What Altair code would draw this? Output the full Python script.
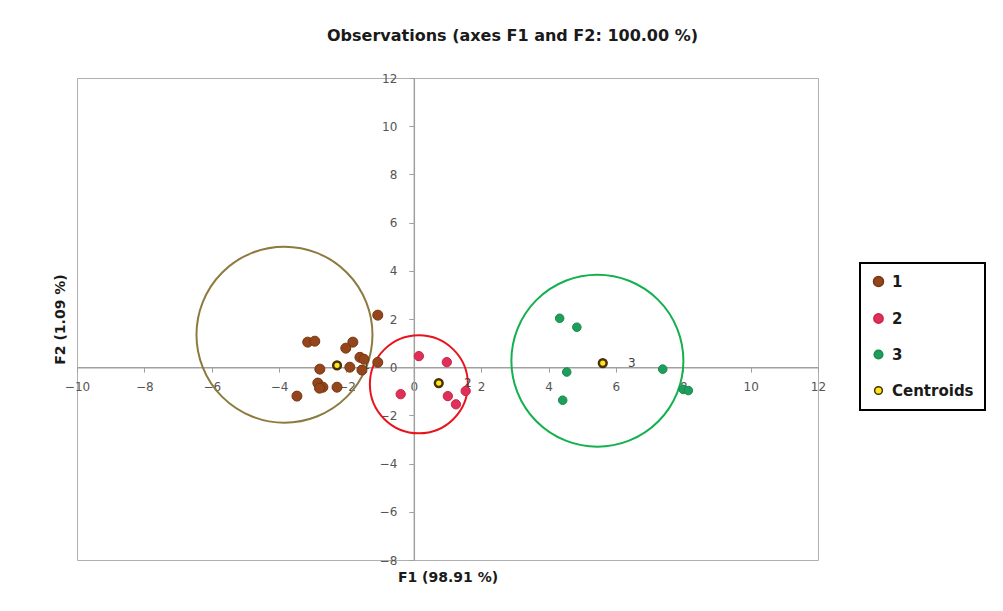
import altair as alt
import pandas as pd

# ---- data ----
c1_x = [-1.07, -3.15, -2.94, -1.81, -2.02, -1.60, -1.48, -1.07, -1.90, -2.79, -1.54, -2.85, -2.70, -2.80, -2.28, -3.47]
c1_y = [2.16, 1.04, 1.08, 1.04, 0.79, 0.41, 0.33, 0.20, 0.00, -0.08, -0.12, -0.66, -0.83, -0.87, -0.83, -1.20]
c2_x = [0.15, 0.98, 1.54, 1.01, 1.25, -0.39]
c2_y = [0.46, 0.21, -0.99, -1.20, -1.54, -1.12]
c3_x = [4.33, 4.84, 4.54, 7.39, 4.42, 8.00, 8.15]
c3_y = [2.03, 1.66, -0.20, -0.08, -1.37, -0.92, -0.97]
centroid_x = [-2.28, 0.74, 5.61]
centroid_y = [0.08, -0.66, 0.17]
centroid_labels = ["1", "2", "3"]
ring_x = [-3.84, 0.15, 5.45]
ring_y = [1.35, -0.71, 0.27]
groups = ["1", "2", "3", "Centroids"]
x_ticks = list(range(-10, 13, 2))
y_ticks = list(range(-8, 13, 2))

# ---- tables ----
pts = pd.DataFrame({
    "x": c1_x + c2_x + c3_x,
    "y": c1_y + c2_y + c3_y,
    "group": ["1"] * len(c1_x) + ["2"] * len(c2_x) + ["3"] * len(c3_x),
})
cents = pd.DataFrame({"x": centroid_x, "y": centroid_y,
                      "group": ["Centroids"] * 3, "label": centroid_labels})
rings = pd.DataFrame({"x": ring_x, "y": ring_y, "k": [0, 1, 2]})

FONT = "DejaVu Sans"
W, H = 741, 482
xdom, ydom = [-10, 12], [-8, 12]
xs = alt.Scale(domain=xdom, nice=False, zero=False)
ys = alt.Scale(domain=ydom, nice=False, zero=False)
y_off = -(H * (0 - ydom[0]) / (ydom[1] - ydom[0]))
x_off = -(W * (0 - xdom[0]) / (xdom[1] - xdom[0]))

title_x_axis = alt.Axis(orient="bottom", title="F1 (98.91 %)", labels=False, ticks=False,
                        domain=False, grid=False, titleFont=FONT, titleFontSize=14,
                        titleFontWeight="bold", titleColor="#1a1a1a", titlePadding=10)
title_y_axis = alt.Axis(orient="left", title="F2 (1.09 %)", labels=False, ticks=False,
                        domain=False, grid=False, titleFont=FONT, titleFontSize=14,
                        titleFontWeight="bold", titleColor="#1a1a1a", titlePadding=10)
zero_x_axis = alt.Axis(orient="bottom", title=None, values=x_ticks, offset=y_off, grid=False,
                       domainColor="#a0a0a0", domainWidth=1.5, tickColor="#a0a0a0",
                       tickSize=5, labelPadding=9, labelFont=FONT, labelFontSize=12,
                       labelColor="#555555", labelOverlap=False, labelFlush=False)
zero_y_axis = alt.Axis(orient="left", title=None, values=y_ticks, offset=x_off, grid=False,
                       domainColor="#a0a0a0", domainWidth=1.5, tickColor="#a0a0a0",
                       tickSize=5, labelPadding=12, labelFont=FONT, labelFontSize=12,
                       labelColor="#555555", labelOverlap=False, labelFlush=False)

# Vega circle symbol radius = sqrt(size)/2  ->  size = (2r)^2
ring_radii = [88, 49, 86]
ring_colors = ["#8c7a3e", "#e8141c", "#12b04e"]

layers = []
for i in range(3):
    layers.append(
        alt.Chart(rings).transform_filter(alt.datum.k == i)
        .mark_point(shape="circle", filled=False, strokeWidth=2, opacity=1)
        .encode(
            x=alt.X("x:Q", scale=xs, axis=title_x_axis if i == 0 else None),
            y=alt.Y("y:Q", scale=ys, axis=title_y_axis if i == 0 else None),
            size=alt.value((2 * ring_radii[i]) ** 2),
            color=alt.value(ring_colors[i]),
        )
    )

labels = alt.Chart(cents).mark_text(dx=29, font=FONT, fontSize=12, color="#404040").encode(
    x=alt.X("x:Q", scale=xs, axis=None),
    y=alt.Y("y:Q", scale=ys, axis=None),
    text="label:N",
)
layers.append(labels)

fill_scale = alt.Scale(domain=groups, range=["#93461c", "#e0305a", "#1e9e5a", "#ffe81a"])
stroke_scale = alt.Scale(domain=groups, range=["#7a3610", "#c8244a", "#178a4c", "#4a3006"])
size_scale = alt.Scale(domain=groups, range=[100, 60, 70, 260])
leg = alt.Legend(title=None, orient="none", legendX=783, legendY=185,
                 labelFont=FONT, labelFontSize=15, labelFontWeight="bold",
                 labelColor="#1a1a1a", padding=11, rowPadding=20, labelOffset=6,
                 strokeColor="#000000", fillColor="#ffffff", symbolStrokeWidth=1.5)

points = alt.Chart(pts).mark_point(filled=True, strokeWidth=1, opacity=1).encode(
    x=alt.X("x:Q", scale=xs, axis=zero_x_axis),
    y=alt.Y("y:Q", scale=ys, axis=zero_y_axis),
    fill=alt.Fill("group:N", scale=fill_scale, legend=leg),
    stroke=alt.Stroke("group:N", scale=stroke_scale, legend=leg),
    size=alt.Size("group:N", scale=size_scale, legend=leg),
)
layers.append(points)

centroids = alt.Chart(cents).mark_point(filled=True, strokeWidth=2.5, opacity=1).encode(
    x=alt.X("x:Q", scale=xs, axis=None),
    y=alt.Y("y:Q", scale=ys, axis=None),
    fill=alt.Fill("group:N", scale=fill_scale, legend=leg),
    stroke=alt.Stroke("group:N", scale=stroke_scale, legend=leg),
    size=alt.Size("group:N", scale=size_scale, legend=leg),
)
layers.append(centroids)

chart = (
    alt.layer(*layers)
    .resolve_axis(x="independent", y="independent")
    .properties(
        width=W, height=H,
        title=alt.TitleParams("Observations (axes F1 and F2: 100.00 %)", font=FONT,
                              fontSize=16, fontWeight="bold", color="#1a1a1a",
                              anchor="middle", dx=65, offset=28),
        autosize=alt.AutoSizeParams(type="none"),
        padding={"left": 69, "top": 70, "right": 177, "bottom": 43},
    )
    .configure_view(stroke="#b0b0b0", strokeWidth=1)
    .configure_legend(strokeWidth=2)
)

chart.save("out.html", embed_options={"renderer": "svg", "actions": False})
